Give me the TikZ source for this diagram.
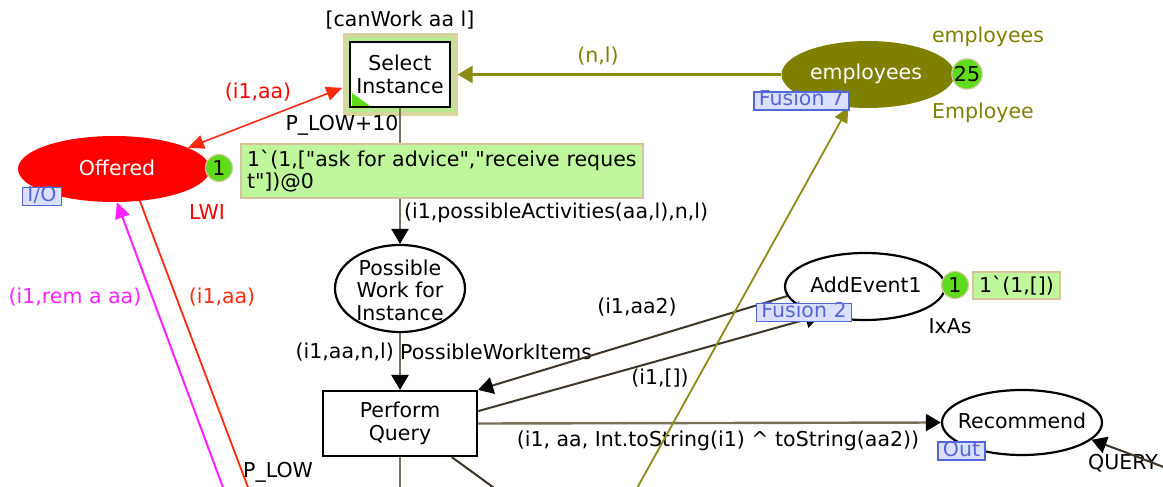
\documentclass[tikz,border=0pt]{standalone}
\usepackage{fontspec}
% a family without the TeX quote mapping, so " and ` print as typed
\newfontfamily\cpnfont{DejaVu Sans}
\usetikzlibrary{shapes.geometric,arrows.meta,calc}

\definecolor{olivecpn}{HTML}{808000}
\definecolor{olivearc}{HTML}{8C8C14}
\definecolor{redarc}{HTML}{FF2A10}
\definecolor{magarc}{HTML}{FF22FF}
\definecolor{arcgrey}{HTML}{7A705C}
\definecolor{arcdark}{HTML}{3E3628}
\definecolor{tagfill}{HTML}{DCE0FF}
\definecolor{tagblue}{HTML}{5566D6}
\definecolor{tokgreen}{HTML}{5EDC1C}
\definecolor{tokring}{HTML}{D8C8A0}
\definecolor{markfill}{HTML}{BFF79D}
\definecolor{markedge}{HTML}{D6C59C}
\definecolor{hlkhaki}{HTML}{D8D69E}
\definecolor{hlgreen}{HTML}{B9EA8F}

\begin{document}
\begin{tikzpicture}[
  x=1pt, y=-1pt,
  every node/.style={font=\cpnfont\fontsize{20.5}{22.5}\selectfont},
  trans/.style={rectangle, draw=black, line width=2.2pt, fill=white, align=center, inner sep=0pt},
  place/.style={ellipse, draw=black, line width=2.2pt, fill=white, inner sep=0pt},
  ptext/.style={align=center, inner sep=0pt},
  tag/.style={rectangle, fill=tagfill, draw=tagblue, line width=1.2pt, text=tagblue,
              inner xsep=5pt, inner ysep=0pt, text height=14pt, text depth=4pt},
  token/.style={circle, fill=tokgreen, draw=tokring, line width=1.2pt, minimum size=27pt, inner sep=0pt},
  marking/.style={rectangle, fill=markfill, draw=markedge, line width=2pt, inner sep=4pt},
  lbl/.style={inner sep=0pt},
  arcg/.style={draw=arcgrey, line width=2.4pt},
  arcd/.style={draw=arcdark, line width=2pt},
  blacktip/.style={-{Triangle[length=15pt,width=17pt,color=black]}},
]
% canvas
\fill[white] (0,0) rectangle (1163,487);
\useasboundingbox (0,0) rectangle (1163,487);

% ---------- transitions ----------
\node[rectangle, fill=hlkhaki, minimum width=115pt, minimum height=83pt, inner sep=0pt] (selhl) at (400,74.5) {};
\node[rectangle, fill=hlgreen, minimum width=107pt, minimum height=75pt, inner sep=0pt] (selband) at (400,74.5) {};
\node[trans, minimum width=100pt, minimum height=65pt] (sel) at (400,74.5) {Select\\Instance};
\fill[tokgreen] (352,93) -- (352,106) -- (370,106) -- cycle;

\node[trans, minimum width=154pt, minimum height=65pt] (pq) at (400,423.5) {Perform\\Query};

% ---------- places ----------
\node[ellipse, fill=red, minimum width=192pt, minimum height=66pt, inner sep=0pt] (off) at (114,169) {};
\node[ptext, text=white] (offT) at (117,168) {Offered};

\node[ellipse, fill=olivecpn, minimum width=173pt, minimum height=67pt, inner sep=0pt] (emp) at (868,74.5) {};
\node[ptext, text=white] (empT) at (866,74) {employees};

\node[place, minimum width=130pt, minimum height=87pt] (pw) at (400,288.5) {};
\node[ptext] (pwT) at (400,290) {Possible\\Work for\\Instance};

\node[place, minimum width=160pt, minimum height=67pt] (ae) at (865,286.5) {};
\node[ptext] (aeT) at (866,285) {AddEvent1};

\node[place, minimum width=160pt, minimum height=65pt] (rec) at (1022,422.5) {};
\node[ptext] (recT) at (1022,421) {Recommend};

% free ends of arcs leaving the visible area
\coordinate (magFoot) at (224,490);
\coordinate (redFoot) at (249,490);
\coordinate (oliveFoot) at (636,490);
\coordinate (pqFootA) at (400,490);
\coordinate (pqFootB) at (497,490);
\coordinate (queryFoot) at (1166,468);

% ---------- arc labels ----------
\node[lbl] (canWork) at (400,20) {[canWork aa l]};
\node[lbl] (prioSel) at (342,125) {P\_LOW+10};
\node[lbl, text=red] (lblSelOff) at (258,92) {(i1,aa)};
\node[lbl, text=olivecpn] (lblNL) at (598,56) {(n,l)};
\node[lbl, anchor=west] (lblPoss) at (404,213) {(i1,possibleActivities(aa,l),n,l)};
\node[lbl, anchor=east] (lblPW) at (394,352) {(i1,aa,n,l)};
\node[lbl, anchor=west] (pwType) at (400,352) {PossibleWorkItems};
\node[lbl, text=magarc] (lblRem) at (75,297) {(i1,rem a aa)};
\node[lbl, text=redarc] (lblOffDown) at (222,297) {(i1,aa)};
\node[lbl, anchor=west] (prioPQ) at (243,472) {P\_LOW};
\node[lbl] (lblAA2) at (637,307) {(i1,aa2)};
\node[lbl] (lblEmpty) at (660,378) {(i1,[])};
\node[lbl] (lblRec) at (718,441) {(i1, aa, Int.toString(i1) \symbol{94} toString(aa2))};
\node[lbl] (aeType) at (950,326) {IxAs};
\node[lbl] (lblQuery) at (1123,463) {QUERY};
\node[lbl, text=red] (offType) at (207,212) {LWI};
\node[lbl, text=olivecpn] (empName) at (988,37) {employees};
\node[lbl, text=olivecpn] (empType) at (983,113) {Employee};

% ---------- arcs ----------
\draw[arcg, blacktip] (sel.south) -- (pw.north);
\draw[arcg, blacktip] (pw.south) -- (pq.north);
\draw[arcg, blacktip] (pq.east) -- (rec.west);
\draw[arcg] (pq.south) -- (pqFootA);
\draw[arcd] (pq.-33) -- (pqFootB);
\draw[arcd, blacktip] (ae.-173) -- (pq.north east);
\draw[arcd, blacktip] (pq.9) -- (ae.-147);
\draw[arcd, blacktip] (queryFoot) .. controls (1125,452) .. (rec.-14);

\draw[olivearc, line width=3pt, -{Triangle[length=15pt,width=17pt]}] (emp.west) -- (selhl.east);
\draw[olivearc, line width=1.8pt, -{Triangle[length=15pt,width=14pt]}] (oliveFoot) -- (emp.-121);

\draw[redarc, line width=1.6pt, {Triangle[length=16pt,width=14pt]}-{Triangle[length=16pt,width=14pt]}] (off.16) -- (selhl.193);
\draw[redarc, line width=1.8pt] (off.-51) -- (redFoot);
\draw[magarc, line width=2pt, -{Triangle[length=16pt,width=15pt]}] (magFoot) -- (off.-85);

% ---------- markings, tokens and tags ----------
\node[marking, anchor=north west, minimum width=402pt, minimum height=54pt,
      text width=390pt, inner xsep=6pt, align=left] (offMark) at (240,143)
      {1`(1,["ask for advice","receive reques\\t"])@0};
\node[token] (offTok) at (219,168) {1};

\node[token] (empTok) at (967,74) {25};

\node[marking, minimum width=87pt, minimum height=27pt, inner sep=2pt] (aeMark) at (1016.5,285.5) {1`(1,[])};
\node[token] (aeTok) at (955,285) {1};

\node[tag] (tagIO) at (42,196.5) {I/O};
\node[tag] (tagF7) at (801.5,101) {Fusion 7};
\node[tag] (tagF2) at (804,312.5) {Fusion 2};
\node[tag] (tagOut) at (961.5,451) {Out};
\end{tikzpicture}
\end{document}
